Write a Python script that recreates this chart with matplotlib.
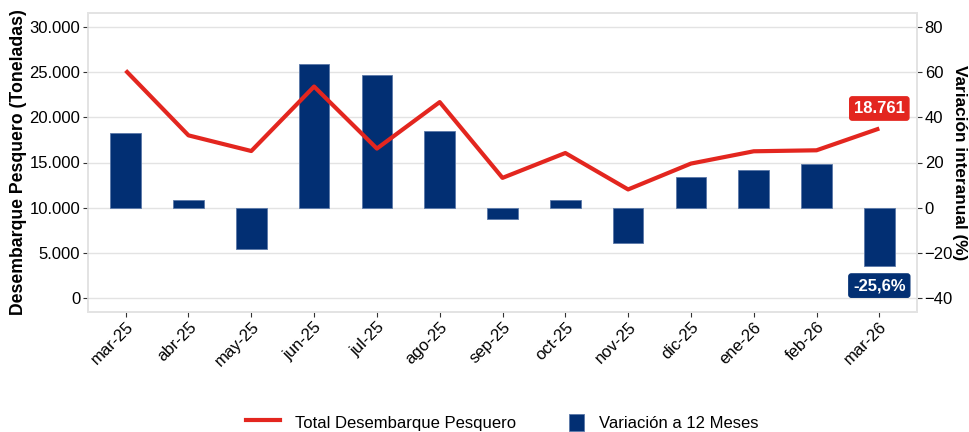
import matplotlib
matplotlib.use("Agg")
import matplotlib.pyplot as plt
from matplotlib.patches import Patch, Rectangle
from matplotlib.lines import Line2D
from matplotlib.legend_handler import HandlerPatch
from matplotlib.ticker import FuncFormatter

plt.rcParams['font.family'] = ['Liberation Sans', 'DejaVu Sans']

months = ["mar-25", "abr-25", "may-25", "jun-25", "jul-25", "ago-25", "sep-25",
          "oct-25", "nov-25", "dic-25", "ene-26", "feb-26", "mar-26"]
desembarque = [25170, 18000, 16270, 23400, 16540, 21680, 13300,
               16050, 12020, 14880, 16240, 16350, 18761]
variacion = [32.9, 3.5, -18.4, 63.5, 58.8, 33.8, -5.2,
             3.2, -15.6, 13.4, 16.9, 19.2, -25.6]

left_ticks = [0, 5000, 10000, 15000, 20000, 25000, 30000]
right_ticks = [-40, -20, 0, 20, 40, 60, 80]

RED = "#e3261f"
NAVY = "#022f73"
GRID = "#e3e3e3"

fig = plt.figure(figsize=(9.69, 4.32), dpi=100)
W, H = 969, 432
x0, x1, y0, y1 = 88, 917, 13.3, 311.7
ax_bar = fig.add_axes([x0 / W, 1 - y1 / H, (x1 - x0) / W, (y1 - y0) / H])
ax_line = ax_bar.twinx()

x = list(range(len(months)))

# bars (right axis)
ax_bar.bar(x, variacion, width=0.49, color=NAVY, edgecolor="#5a78a8", linewidth=0.6, zorder=3)
ax_bar.set_ylim(-46, 86)
ax_bar.set_yticks(right_ticks)
ax_bar.yaxis.tick_right()
ax_bar.yaxis.set_label_position('right')
ax_bar.grid(axis='y', color=GRID, linewidth=1.0, zorder=0)
ax_bar.set_axisbelow(True)
ax_bar.set_ylabel("Variación interanual (%)", fontsize=12.4, fontweight='bold',
                  rotation=-90, va='center', ha='center')
ax_bar.yaxis.set_label_coords((959.5 - x0) / (x1 - x0), 0.5)

# line (left axis)
ax_line.plot(x, desembarque, color=RED, linewidth=3, solid_capstyle='butt', zorder=5)
ax_line.set_ylim(-1500, 31500)
ax_line.set_yticks(left_ticks)
ax_line.yaxis.tick_left()
ax_line.yaxis.set_label_position('left')
ax_line.yaxis.set_major_formatter(FuncFormatter(lambda v, p: f"{int(v):,}".replace(",", ".")))
ax_line.set_ylabel("Desembarque Pesquero (Toneladas)", fontsize=12.7, fontweight='bold',
                   va='center', ha='center')
ax_line.yaxis.set_label_coords((19 - x0) / (x1 - x0), 0.5)

ax_bar.set_xlim(-0.6, 12.6)
ax_bar.set_xticks(x)
ax_bar.set_xticklabels(months, rotation=45, ha='right', rotation_mode='anchor', fontsize=12)

for a in (ax_bar, ax_line):
    for s in a.spines.values():
        s.set_color(GRID)
        s.set_linewidth(1.2)
    a.tick_params(axis='both', colors='#333333', labelcolor='black', labelsize=12,
                  length=3.5, width=0.8, pad=2)

# annotations
ax_line.annotate(f"{desembarque[-1]:,}".replace(",", "."), xy=(x[-1], desembarque[-1]),
                 xytext=(0, 20), textcoords='offset pixels', ha='center', va='center',
                 color='white', fontsize=12, fontweight='bold', zorder=10,
                 bbox=dict(boxstyle='round,pad=0.25,rounding_size=0.15', fc=RED, ec=RED))
ax_bar.annotate(f"{variacion[-1]:.1f}%".replace(".", ","), xy=(x[-1], variacion[-1]),
                xytext=(0, -20), textcoords='offset pixels', ha='center', va='center',
                color='white', fontsize=12, fontweight='bold', zorder=10,
                bbox=dict(boxstyle='round,pad=0.25,rounding_size=0.15', fc=NAVY, ec=NAVY))


def square_patch(legend, orig_handle, xdescent, ydescent, width, height, fontsize):
    sw = 15 * 0.72
    sh = 17 * 0.72
    return Rectangle((width - xdescent - sw, -ydescent + height / 2 - sh / 2), sw, sh)


handles = [Line2D([0], [0], color=RED, linewidth=3),
           Patch(facecolor=NAVY, edgecolor="#5a78a8", linewidth=0.6)]
fig.legend(handles, ["Total Desembarque Pesquero", "Variación a 12 Meses"],
           loc='center', bbox_to_anchor=((x0 + x1) / 2 / W, 1 - 422 / H), ncol=2, frameon=False,
           fontsize=12, handlelength=2.0, handleheight=1.3, columnspacing=2.1,
           handletextpad=0.9, handler_map={Patch: HandlerPatch(patch_func=square_patch)})

fig.savefig("out.png", dpi=100)
